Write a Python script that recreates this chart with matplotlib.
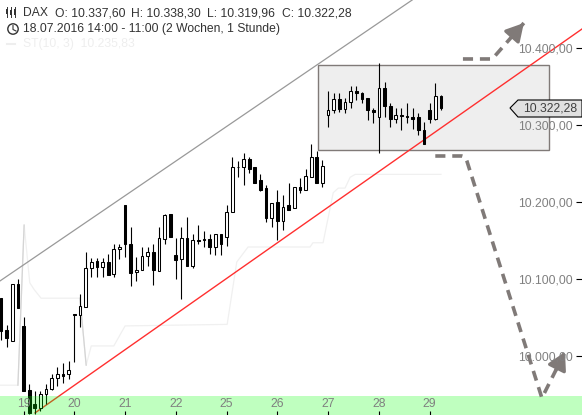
import matplotlib
matplotlib.use("Agg")
import matplotlib.pyplot as plt
from matplotlib.patches import Circle, Polygon, Rectangle
from matplotlib.transforms import Affine2D

plt.rcParams["font.family"] = ["Liberation Sans", "DejaVu Sans"]

# hourly candles
opens = [10075, 10034, 10020, 10093, 10039, 9956, 9938, 9933, 9950, 9957,
         9972, 9977, 9977, 10054, 10053, 10064, 10114, 10123, 10115, 10122,
         10106, 10139, 10196, 10146, 10109, 10111, 10130, 10135, 10110, 10152,
         10184, 10131, 10126, 10153, 10117, 10150, 10152, 10152, 10141, 10158,
         10154, 10187, 10246, 10245, 10256, 10245, 10228, 10218, 10179, 10200,
         10175, 10196, 10192, 10219, 10216, 10233, 10259, 10224, 10313, 10319,
         10334, 10321, 10330, 10344, 10341, 10335, 10319, 10310, 10348, 10325,
         10308, 10313, 10312, 10310, 10310, 10294, 10320, 10308, 10337.6]
highs = [10075, 10040, 10094, 10100, 10051, 9963, 9955, 9954, 9964, 9976,
         9986, 9991, 9994, 10054, 10080, 10135, 10127, 10127, 10127, 10132,
         10146, 10146, 10196, 10168, 10128, 10141, 10141, 10146, 10168, 10184,
         10185, 10153, 10167, 10181, 10159, 10170, 10162, 10159, 10158, 10158,
         10196, 10259, 10253, 10264, 10258, 10245, 10236, 10222, 10198, 10216,
         10209, 10225, 10219, 10231, 10243, 10275, 10266, 10255, 10344, 10341,
         10341, 10335, 10351, 10351, 10343, 10335, 10322, 10381, 10356, 10328,
         10322, 10322, 10328, 10322, 10315, 10304, 10329, 10355, 10338.3]
lows = [10021, 10012, 10020, 10062, 9954, 9924, 9924, 9928, 9937, 9956,
        9961, 9965, 9970, 9992, 10038, 10064, 10102, 10102, 10102, 10105,
        10102, 10126, 10128, 10091, 10097, 10111, 10117, 10092, 10110, 10145,
        10154, 10100, 10074, 10117, 10114, 10145, 10141, 10133, 10131, 10131,
        10143, 10187, 10233, 10222, 10237, 10225, 10214, 10174, 10167, 10150,
        10163, 10190, 10192, 10212, 10216, 10233, 10224, 10219, 10298, 10316,
        10317, 10316, 10322, 10333, 10328, 10306, 10302, 10264, 10310, 10298,
        10303, 10294, 10302, 10295, 10287, 10275, 10303, 10306, 10319.96]
closes = [10033, 10023, 10093, 10062, 9955, 9926, 9933, 9951, 9957, 9972,
          9976, 9974, 9982, 10053, 10065, 10114, 10122, 10115, 10122, 10105,
          10139, 10141, 10146, 10108, 10111, 10130, 10135, 10111, 10153, 10183,
          10154, 10124, 10153, 10117, 10150, 10149, 10150, 10141, 10158, 10146,
          10187, 10245, 10245, 10256, 10243, 10225, 10215, 10179, 10198, 10175,
          10194, 10190, 10219, 10216, 10234, 10259, 10224, 10247, 10319, 10334,
          10321, 10330, 10344, 10341, 10334, 10319, 10317, 10348, 10325, 10308,
          10313, 10312, 10310, 10308, 10293, 10275, 10308, 10337, 10322.28]

tick_pos = [4, 13, 22, 31, 40, 49, 58, 67, 76]
tick_days = ["19", "20", "21", "22", "25", "26", "27", "28", "29"]
price_ticks = [10000, 10100, 10200, 10300, 10400]
price_labels = ["10.000,00", "10.100,00", "10.200,00", "10.300,00", "10.400,00"]
last_label = "10.322,28"

# supertrend
st_idx = [-0.2, 3.0, 4.1, 5.1, 5.9, 7.1, 14, 15.1, 16, 20, 22, 40.1, 41.8, 43.8,
          54.8, 55.3, 57.1, 58.9, 59.8, 61, 61.9, 62.8, 78]
st_val = [9962, 9962, 10170, 10095, 10086, 10075, 10075, 9988, 10013, 10013, 10039,
          10041, 10122, 10141.5, 10141.5, 10147, 10147, 10212, 10218, 10218, 10232,
          10235.83, 10235.83]

# drawn lines and zones
red_idx = [6.03, 103]
red_val = [9926, 10424.6]
chan_idx = [-0.18, 72.9]
chan_val = [10097.4, 10462.3]
box_idx = [56.2, 97.2]
box_val = [10267.5, 10378]
zone_top = 9948
up_idx = [81.9, 87.1, 92.7]
up_val = [10385.7, 10385.7, 10432.4]
down_idx = [77, 81.7, 82.3, 82.6, 95.9, 100]
down_val = [10259.7, 10259.7, 10258.4, 10253.2, 9945.4, 10005.2]

GRAY = "#807a78"

fig = plt.figure(figsize=(5.82, 4.15), dpi=100)
ax = fig.add_axes([0, 0, 1, 1])
ax.set_xlim(-0.177, 103.01)
ax.set_ylim(9923.3, 10462.3)
for s in ax.spines.values():
    s.set_visible(False)

# helper transform: picture pixels, origin top left
pix = Affine2D().scale(1, -1).translate(0, 415)

ax.add_patch(Rectangle((box_idx[0], box_val[0]), box_idx[1] - box_idx[0], box_val[1] - box_val[0],
                       facecolor="#eeeeee", edgecolor=GRAY, lw=1.0, zorder=1))

ax.plot(st_idx, st_val, color="#f0f0f0", lw=0.9, zorder=1.5)
ax.plot(st_idx[1:3], st_val[1:3], color="#d4d4d4", lw=0.9, zorder=1.6)
ax.plot(st_idx[6:8], st_val[6:8], color="#d4d4d4", lw=0.9, zorder=1.6)

ax.plot(chan_idx, chan_val, color="#999999", lw=0.9, zorder=1.7)
ax.plot(red_idx, red_val, color="#ff2f2f", lw=1.0, zorder=1.8)

# candles
xs = list(range(len(opens)))
ax.vlines(xs, lows, highs, color="black", lw=0.8, zorder=2)
for x, o, c in zip(xs, opens, closes):
    fc = "black" if c < o else "white"
    ax.bar(x, abs(c - o), bottom=min(o, c), width=0.48, facecolor=fc, edgecolor="black", lw=0.75, zorder=3)

# green zone lies over the candles
ax.axhspan(9923.3, zone_top, color=(0, 1, 0), alpha=0.25, lw=0, zorder=5)

# dashed scenario arrows
dash = (0, (2.8, 1.9))
ax.plot(up_idx, up_val, color=GRAY, lw=2.6, ls=dash, zorder=6)
ax.plot(down_idx, down_val, color=GRAY, lw=2.6, ls=dash, zorder=6)
for a, b, vals in [(up_idx[-2], up_idx[-1], up_val), (down_idx[-2], down_idx[-1], down_val)]:
    mx = a + (b - a) * 0.6
    my = vals[-2] + (vals[-1] - vals[-2]) * 0.6
    ax.annotate("", xy=(b, vals[-1]), xytext=(mx, my), zorder=7,
                arrowprops=dict(arrowstyle="-|>,head_length=0.75,head_width=0.42", color=GRAY, lw=2.4,
                                mutation_scale=14, shrinkA=0, shrinkB=0))

# axes
ax.set_xticks(tick_pos)
ax.set_xticklabels(tick_days)
ax.yaxis.tick_right()
ax.set_yticks(price_ticks)
ax.set_yticklabels(price_labels, ha="right")
ax.tick_params(axis="x", direction="in", length=3, width=0.8, color="black", labelsize=8.7,
               labelcolor="#808080", pad=-12.5)
ax.tick_params(axis="y", direction="in", length=4.3, width=0.8, color="black", labelsize=8.7,
               labelcolor="#808080", pad=-6.5)
ax.xaxis.set_zorder(8)
ax.yaxis.set_zorder(8)

# last price tag
ax.add_patch(Polygon([(510, 108), (518, 100), (582, 100), (582, 117), (518, 117)], closed=True,
                     transform=pix, facecolor="#e0e0e0", edgecolor="black", lw=0.8, zorder=9))
ax.text(577, 108.5, last_label, transform=pix, ha="right", va="center", fontsize=8.7, color="#404040", zorder=10)

# header
for x, s in [(23, "DAX"), (55, "O: 10.337,60"), (131, "H: 10.338,30"), (207, "L: 10.319,96"), (282, "C: 10.322,28")]:
    ax.text(x, 13, s, transform=pix, ha="left", va="center", fontsize=8.7, color="#333333", zorder=10)
ax.text(23, 29, "18.07.2016 14:00 - 11:00 (2 Wochen, 1 Stunde)", transform=pix, ha="left", va="center",
        fontsize=8.7, color="#333333", zorder=10)
ax.text(23, 44, "ST(10, 3)  10.235,83", transform=pix, ha="left", va="center", fontsize=8.7, color="#eeeeee", zorder=10)
ax.plot([7, 15], [44, 44], transform=pix, color="#eeeeee", lw=1.5, zorder=10)

# little icons
for x, top, bot in [(7, 9, 14), (11, 10, 15), (15, 9, 15)]:
    ax.plot([x, x], [7, 17], transform=pix, color="#333333", lw=0.7, zorder=10)
    ax.add_patch(Rectangle((x - 1.2, top), 2.4, bot - top, transform=pix, facecolor="#333333", lw=0, zorder=10))
ax.add_patch(Circle((13, 29), 5.2, transform=pix, facecolor="none", edgecolor="#333333", lw=1, zorder=10))
ax.plot([13, 13, 16], [25.5, 29.5, 31], transform=pix, color="#333333", lw=0.8, zorder=10)

fig.savefig("out.png", dpi=100)
